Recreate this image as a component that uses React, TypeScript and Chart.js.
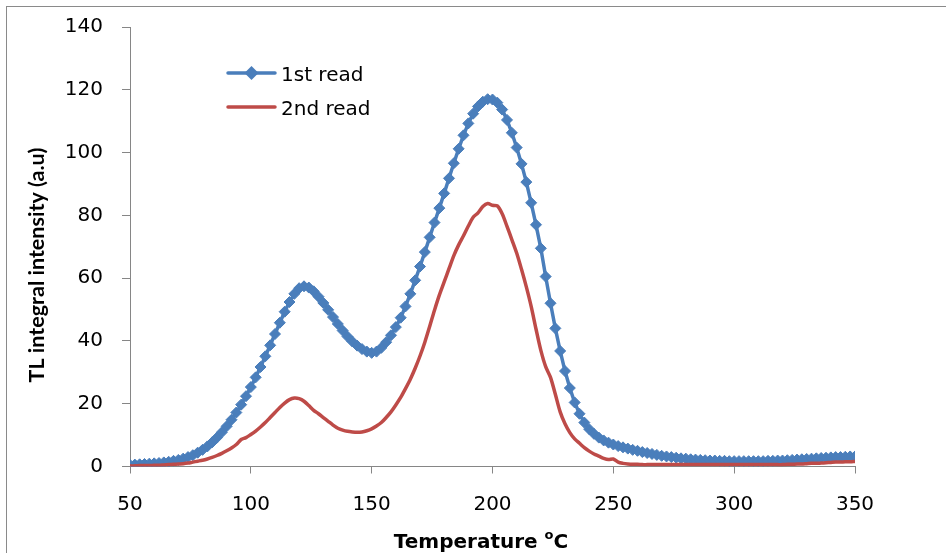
import React, { useEffect, useRef } from "react";
import { Chart, registerables } from "chart.js";

Chart.register(...registerables);

// Temperature (°C)
const temps = [
  50, 52, 54, 56, 58, 60, 62, 64, 66, 68,
  70, 72, 74, 76, 78, 80, 82, 84, 86, 88,
  90, 92, 94, 96, 98, 100, 102, 104, 106, 108,
  110, 112, 114, 116, 118, 120, 122, 124, 126, 128,
  130, 132, 134, 136, 138, 140, 142, 144, 146, 148,
  150, 152, 154, 156, 158, 160, 162, 164, 166, 168,
  170, 172, 174, 176, 178, 180, 182, 184, 186, 188,
  190, 192, 194, 196, 198, 200, 202, 204, 206, 208,
  210, 212, 214, 216, 218, 220, 222, 224, 226, 228,
  230, 232, 234, 236, 238, 240, 242, 244, 246, 248,
  250, 252, 254, 256, 258, 260, 262, 264, 266, 268,
  270, 272, 274, 276, 278, 280, 282, 284, 286, 288,
  290, 292, 294, 296, 298, 300, 302, 304, 306, 308,
  310, 312, 314, 316, 318, 320, 322, 324, 326, 328,
  330, 332, 334, 336, 338, 340, 342, 344, 346, 348,
  350,
];

// 1st read
const firstRead = [
  0.5, 0.6, 0.7, 0.8, 0.9, 1.0, 1.1, 1.3, 1.5, 1.8,
  2.1, 2.5, 3.0, 3.6, 4.4, 5.3, 6.4, 7.7, 9.2, 10.9,
  12.8, 14.9, 17.2, 19.7, 22.4, 25.3, 28.4, 31.7, 35.1, 38.6,
  42.2, 45.8, 49.3, 52.4, 55.0, 56.8, 57.4, 57.0, 55.8, 54.1,
  52.1, 49.9, 47.6, 45.4, 43.3, 41.4, 39.8, 38.5, 37.4, 36.6,
  36.2, 36.6, 37.8, 39.6, 41.8, 44.4, 47.4, 51.0, 55.0, 59.3,
  63.7, 68.3, 73.0, 77.7, 82.3, 87.0, 91.8, 96.6, 101.2, 105.5,
  109.3, 112.4, 114.7, 116.2, 117.0, 116.9, 115.9, 113.7, 110.4, 106.3,
  101.6, 96.4, 90.6, 84.0, 77.0, 69.5, 60.5, 52.0, 44.0, 36.8,
  30.4, 25.0, 20.4, 16.8, 14.0, 11.9, 10.4, 9.2, 8.3, 7.6,
  7.0, 6.5, 6.1, 5.7, 5.3, 5.0, 4.6, 4.3, 4.0, 3.7,
  3.4, 3.2, 3.0, 2.8, 2.6, 2.5, 2.3, 2.2, 2.1, 2.0,
  1.9, 1.9, 1.8, 1.8, 1.7, 1.7, 1.7, 1.7, 1.7, 1.7,
  1.7, 1.7, 1.8, 1.8, 1.9, 1.9, 2.0, 2.1, 2.2, 2.3,
  2.4, 2.5, 2.6, 2.7, 2.8, 2.9, 3.0, 3.0, 3.1, 3.2,
  3.2,
];

// 2nd read
const secondRead = [
  0.2, 0.2, 0.3, 0.3, 0.3, 0.4, 0.4, 0.5, 0.6, 0.7,
  0.8, 0.9, 1.1, 1.4, 1.7, 2.0, 2.4, 2.9, 3.5, 4.2,
  5.0, 5.9, 7.0, 8.6, 9.2, 10.2, 11.3, 12.6, 14.0, 15.6,
  17.2, 18.8, 20.2, 21.3, 21.8, 21.6, 20.8, 19.4, 17.9, 16.8,
  15.6, 14.4, 13.2, 12.2, 11.6, 11.2, 11.0, 10.9, 11.0, 11.4,
  12.0, 12.9, 14.0, 15.6, 17.4, 19.6, 22.0, 24.8, 27.8, 31.3,
  35.2, 39.6, 44.6, 49.8, 54.6, 58.8, 63.0, 67.2, 70.6, 73.5,
  76.6, 79.4, 80.8, 82.8, 83.8, 83.2, 83.0, 80.5, 76.5, 72.3,
  68.0, 62.8, 57.2, 51.0, 43.8, 37.0, 31.8, 28.4, 23.0, 17.4,
  13.6, 10.8, 8.8, 7.4, 6.0, 4.9, 4.0, 3.3, 2.6, 2.2,
  2.4, 1.4, 1.0, 0.8, 0.7, 0.7, 0.6, 0.6, 0.6, 0.6,
  0.6, 0.6, 0.6, 0.6, 0.6, 0.6, 0.6, 0.6, 0.6, 0.6,
  0.6, 0.6, 0.6, 0.6, 0.6, 0.6, 0.6, 0.6, 0.6, 0.6,
  0.6, 0.6, 0.6, 0.6, 0.6, 0.6, 0.7, 0.7, 0.8, 0.8,
  0.9, 1.0, 1.0, 1.1, 1.2, 1.3, 1.4, 1.4, 1.5, 1.5,
  1.6,
];

const seriesNames = ["1st read", "2nd read"];
const xTitle = "Temperature ";
const xTitleSup = "o";
const xTitleEnd = "C";
const yTitle = "TL integral intensity (a.u)";

const BLUE = "#4A7EBB";
const RED = "#BE4B48";
const AXIS = "#868686";

const decorPlugin = {
  id: "decor",
  beforeDraw(chart: any) {
    const ctx = chart.ctx;
    ctx.save();
    ctx.fillStyle = "#ffffff";
    ctx.fillRect(0, 0, chart.width, chart.height);
    ctx.strokeStyle = "#8a8a8a";
    ctx.lineWidth = 1;
    ctx.strokeRect(6.5, 6.5, 1200, 1200);
    ctx.restore();
  },
  afterDraw(chart: any) {
    const ctx = chart.ctx;
    ctx.save();
    // Y title
    ctx.translate(44, 265);
    ctx.rotate(-Math.PI / 2);
    let size = 22;
    ctx.font = `bold ${size}px Lato`;
    const w = ctx.measureText(yTitle).width;
    size = (size * 235) / w;
    ctx.font = `bold ${size}px Lato`;
    ctx.fillStyle = "#000";
    ctx.textAlign = "center";
    ctx.textBaseline = "alphabetic";
    ctx.fillText(yTitle, 0, 0);
    ctx.restore();

    // X title
    ctx.save();
    ctx.fillStyle = "#000";
    ctx.textBaseline = "alphabetic";
    ctx.textAlign = "left";
    const mainFont = "bold 20px 'DejaVu Sans'";
    const supFont = "bold 13px 'DejaVu Sans'";
    ctx.font = mainFont;
    const w1 = ctx.measureText(xTitle).width;
    const w3 = ctx.measureText(xTitleEnd).width;
    ctx.font = supFont;
    const w2 = ctx.measureText(xTitleSup).width;
    const total = w1 + w2 + w3;
    let x = 481 - total / 2;
    const by = 548;
    ctx.font = mainFont;
    ctx.fillText(xTitle, x, by);
    x += w1;
    ctx.font = supFont;
    ctx.fillText(xTitleSup, x, by - 9);
    x += w2;
    ctx.font = mainFont;
    ctx.fillText(xTitleEnd, x, by);
    ctx.restore();

    // Legend
    ctx.save();
    const items = [
      { name: seriesNames[0], color: BLUE, marker: true, y: 73 },
      { name: seriesNames[1], color: RED, marker: false, y: 107 },
    ];
    for (const it of items) {
      ctx.strokeStyle = it.color;
      ctx.lineWidth = 3.5;
      ctx.lineCap = "round";
      ctx.beginPath();
      ctx.moveTo(228, it.y);
      ctx.lineTo(275, it.y);
      ctx.stroke();
      if (it.marker) {
        ctx.fillStyle = it.color;
        ctx.beginPath();
        const cx = 251.5, r = 7;
        ctx.moveTo(cx, it.y - r);
        ctx.lineTo(cx + r, it.y);
        ctx.lineTo(cx, it.y + r);
        ctx.lineTo(cx - r, it.y);
        ctx.closePath();
        ctx.fill();
      }
      ctx.fillStyle = "#000";
      ctx.font = "20px 'DejaVu Sans'";
      ctx.textAlign = "left";
      ctx.textBaseline = "alphabetic";
      ctx.fillText(it.name, 281, it.y + 7.5);
    }
    ctx.restore();
  },
};

export default function App() {
  const ref = useRef<HTMLCanvasElement | null>(null);

  useEffect(() => {
    if (!ref.current) return;
    const chart = new Chart(ref.current, {
      type: "line",
      data: {
        datasets: [
          {
            label: seriesNames[0],
            data: temps.map((t, i) => ({ x: t, y: firstRead[i] })),
            borderColor: BLUE,
            backgroundColor: BLUE,
            borderWidth: 3.5,
            pointStyle: "rectRot",
            pointRadius: 5.5,
            pointBackgroundColor: BLUE,
            pointBorderColor: BLUE,
            pointBorderWidth: 1,
            tension: 0,
            order: 2,
          },
          {
            label: seriesNames[1],
            data: temps.map((t, i) => ({ x: t, y: secondRead[i] })),
            borderColor: RED,
            backgroundColor: RED,
            borderWidth: 3.5,
            pointRadius: 0,
            tension: 0.3,
            order: 1,
          },
        ],
      },
      options: {
        responsive: false,
        animation: false,
        devicePixelRatio: 1,
        layout: { padding: { left: 0, right: 91, top: 27, bottom: 0 } },
        plugins: {
          legend: { display: false },
          tooltip: { enabled: false },
        },
        scales: {
          x: {
            type: "linear",
            min: 50,
            max: 350,
            afterFit: (s: any) => {
              s.height = 86.5;
            },
            ticks: {
              stepSize: 50,
              color: "#000",
              font: { family: "'DejaVu Sans'", size: 20 },
              padding: 19,
              maxRotation: 0,
            },
            grid: {
              display: true,
              drawOnChartArea: false,
              drawTicks: true,
              tickLength: 7,
              color: AXIS,
            },
            border: { display: true, color: AXIS, width: 1 },
          },
          y: {
            min: 0,
            max: 140,
            afterFit: (s: any) => {
              s.width = 130;
              s.paddingTop = 0;
              s.paddingBottom = 0;
            },
            ticks: {
              stepSize: 20,
              color: "#000",
              font: { family: "'DejaVu Sans'", size: 20 },
              padding: 19,
            },
            grid: {
              display: true,
              drawOnChartArea: false,
              drawTicks: true,
              tickLength: 8,
              color: AXIS,
            },
            border: { display: true, color: AXIS, width: 1 },
          },
        },
      },
      plugins: [decorPlugin],
    });
    return () => chart.destroy();
  }, []);

  return (
    <div style={{ position: "fixed", left: 0, top: 0, width: 946, height: 553, background: "#fff" }}>
      <canvas ref={ref} width={946} height={553} style={{ display: "block", width: 946, height: 553 }} />
    </div>
  );
}
